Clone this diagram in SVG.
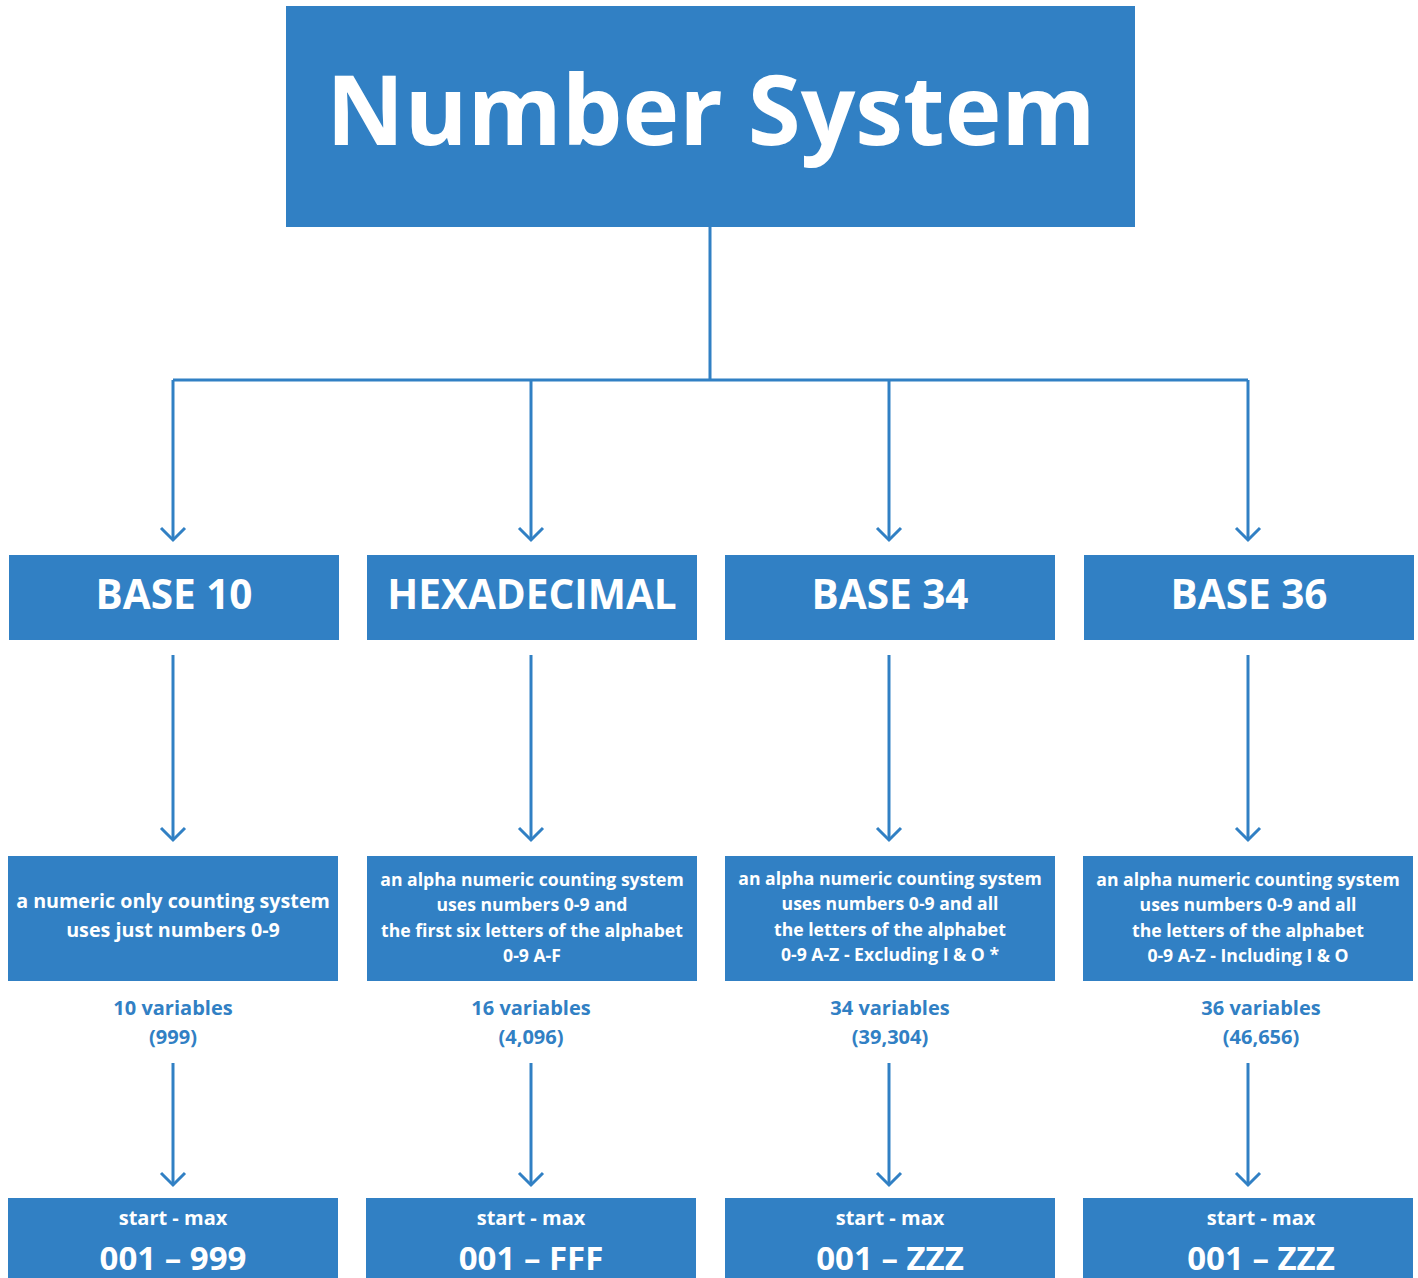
<svg xmlns="http://www.w3.org/2000/svg" width="1418" height="1278" viewBox="0 0 1418 1278">
<defs>
<style>
.box{fill:#3180C4}
.t{font-family:"Open Sans","Liberation Sans",sans-serif;font-weight:700;fill:#fff;text-anchor:middle}
.b{font-family:"Open Sans","Liberation Sans",sans-serif;font-weight:700;fill:#3180C4;text-anchor:middle;font-size:20px}
.d{font-size:17.6px}
.h{font-size:40.5px}
.line{stroke:#3180C4;stroke-width:3;fill:none}
</style>
<marker id="arr" markerWidth="30" markerHeight="30" refX="15" refY="15" viewBox="0 0 30 30" markerUnits="userSpaceOnUse" orient="auto">
<path d="M3,3 L15,15 L3,27" fill="none" stroke="#3180C4" stroke-width="3"/>
</marker>
</defs>
<rect width="1418" height="1278" fill="#fff"/>
<g id="connectors" class="line">
<path d="M710,227 V380 M173,380 H1248"/>
<path d="M173,380 V540" marker-end="url(#arr)"/>
<path d="M531,380 V540" marker-end="url(#arr)"/>
<path d="M889,380 V540" marker-end="url(#arr)"/>
<path d="M1248,380 V540" marker-end="url(#arr)"/>
<path d="M173,655 V840" marker-end="url(#arr)"/>
<path d="M531,655 V840" marker-end="url(#arr)"/>
<path d="M889,655 V840" marker-end="url(#arr)"/>
<path d="M1248,655 V840" marker-end="url(#arr)"/>
<path d="M173,1063 V1185" marker-end="url(#arr)"/>
<path d="M531,1063 V1185" marker-end="url(#arr)"/>
<path d="M889,1063 V1185" marker-end="url(#arr)"/>
<path d="M1248,1063 V1185" marker-end="url(#arr)"/>
</g>
<g id="title">
<rect class="box" x="286" y="6" width="849" height="221"/>
<text class="t" x="711" y="145" font-size="96">Number System</text>
</g>
<g id="base10">
<rect class="box" x="9" y="555" width="330" height="85"/>
<text class="t h" x="174" y="609">BASE 10</text>
</g>
<g id="hex">
<rect class="box" x="367" y="555" width="330" height="85"/>
<text class="t h" x="532" y="609">HEXADECIMAL</text>
</g>
<g id="base34">
<rect class="box" x="725" y="555" width="330" height="85"/>
<text class="t h" x="890" y="609">BASE 34</text>
</g>
<g id="base36">
<rect class="box" x="1084" y="555" width="330" height="85"/>
<text class="t h" x="1249" y="609">BASE 36</text>
</g>
<g id="desc10">
<rect class="box" x="8" y="856" width="330" height="125"/>
<text class="t" font-size="19.7"><tspan x="173" y="908">a numeric only counting system</tspan><tspan x="173" y="937">uses just numbers 0-9</tspan></text>
</g>
<g id="deschex">
<rect class="box" x="367" y="856" width="330" height="125"/>
<text class="t d"><tspan x="532" y="886">an alpha numeric counting system</tspan><tspan x="532" y="911">uses numbers 0-9 and</tspan><tspan x="532" y="937">the first six letters of the alphabet</tspan><tspan x="532" y="962">0-9 A-F</tspan></text>
</g>
<g id="desc34">
<rect class="box" x="725" y="856" width="330" height="125"/>
<text class="t d"><tspan x="890" y="885">an alpha numeric counting system</tspan><tspan x="890" y="910">uses numbers 0-9 and all</tspan><tspan x="890" y="936">the letters of the alphabet</tspan><tspan x="890" y="961">0-9 A-Z - Excluding I &amp; O *</tspan></text>
</g>
<g id="desc36">
<rect class="box" x="1083" y="856" width="330" height="125"/>
<text class="t d"><tspan x="1248" y="886">an alpha numeric counting system</tspan><tspan x="1248" y="911">uses numbers 0-9 and all</tspan><tspan x="1248" y="937">the letters of the alphabet</tspan><tspan x="1248" y="962">0-9 A-Z - Including I &amp; O</tspan></text>
</g>
<g id="var10"><text class="b"><tspan x="173" y="1015">10 variables</tspan><tspan x="173" y="1044">(999)</tspan></text></g>
<g id="varhex"><text class="b"><tspan x="531" y="1015">16 variables</tspan><tspan x="531" y="1044">(4,096)</tspan></text></g>
<g id="var34"><text class="b"><tspan x="890" y="1015">34 variables</tspan><tspan x="890" y="1044">(39,304)</tspan></text></g>
<g id="var36"><text class="b"><tspan x="1261" y="1015">36 variables</tspan><tspan x="1261" y="1044">(46,656)</tspan></text></g>
<g id="range10">
<rect class="box" x="8" y="1198" width="330" height="80"/>
<text class="t" x="173" y="1225" font-size="20">start - max</text>
<text class="t" x="173" y="1270" font-size="33">001 – 999</text>
</g>
<g id="rangehex">
<rect class="box" x="366" y="1198" width="330" height="80"/>
<text class="t" x="531" y="1225" font-size="20">start - max</text>
<text class="t" x="531" y="1270" font-size="33">001 – FFF</text>
</g>
<g id="range34">
<rect class="box" x="725" y="1198" width="330" height="80"/>
<text class="t" x="890" y="1225" font-size="20">start - max</text>
<text class="t" x="890" y="1270" font-size="33">001 – ZZZ</text>
</g>
<g id="range36">
<rect class="box" x="1083" y="1198" width="330" height="80"/>
<text class="t" x="1261" y="1225" font-size="20">start - max</text>
<text class="t" x="1261" y="1270" font-size="33">001 – ZZZ</text>
</g>
</svg>
